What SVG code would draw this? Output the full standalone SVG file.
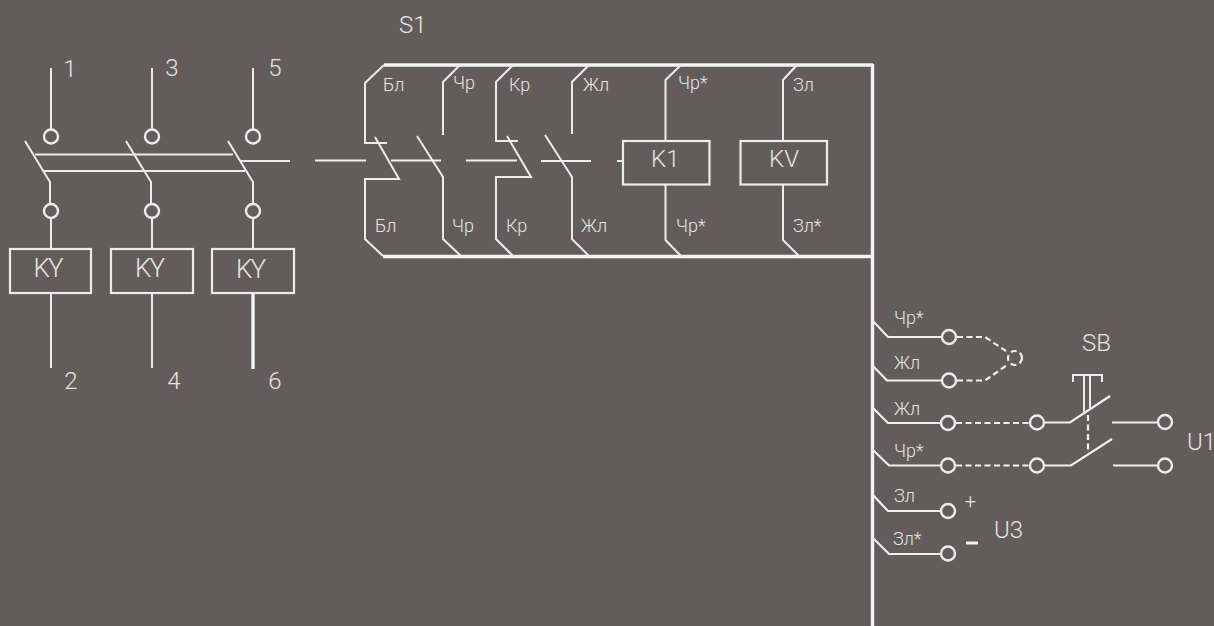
<svg xmlns="http://www.w3.org/2000/svg" width="1214" height="626" viewBox="0 0 1214 626">
<style>
.w{fill:none;stroke:#ececec;stroke-width:2}
.b{fill:none;stroke:#f4f4f4;stroke-width:3.4}
.m{fill:none;stroke:#f0f0f0;stroke-width:2.2}
.d{fill:none;stroke:#f0f0f0;stroke-width:2.2;stroke-dasharray:6 3.5}
.c{fill:none;stroke:#ececec;stroke-width:2.4}
.box{fill:none;stroke:#ececec;stroke-width:2.2}
text{font-family:"Roboto","Liberation Sans",sans-serif;font-weight:300;fill:#e4e4e4}
.s{font-size:18px}
.l{font-size:24px}
.k{font-size:26px}
.t{text-anchor:middle}
</style>
<rect width="1214" height="626" fill="#645c5c"/>
<g id="connectors">
<path class="b" d="M384 65H873M383 256.500H871M872.500 64V626"/>
<path class="w" d="M51 68V129M152 68V129M253 68V129"/>
<path class="w" d="M25 141L50 182V203M51 218V249M51 293V368"/>
<path class="w" d="M126 141L151 182V203M152 218V249M152 293V368"/>
<path class="w" d="M228 141L253 182V203M253 218V249"/>
<path class="b" d="M253 293V369"/>
<path class="w" d="M35 154.500H233M44 171H245M241 161H290"/>
<path class="w" d="M384 65L365 83V143H387M375 137L399 179H365V239L383 256"/>
<path class="w" d="M460 65L443 82V135M417 136L443 177V239L461 256"/>
<path class="w" d="M513 65L496 82V141H518M507 136L531 177H496V239L513 256"/>
<path class="w" d="M589 65L572 82V134M545 135L572 177V239L589 256"/>
<path class="w" d="M681 65L665.500 80V141M665.500 184.500V240L681 256"/>
<path class="w" d="M797 65L783 80V141M783 184.500V240L799 256"/>
<path class="m" d="M315 160.500H366M391 160.500H441M466 160.500H517M541 161H591M617 161H623"/>
<path class="m" d="M872 320L888 337H942M872 365L887 380.500H942M872 407L888 423H941M872 449L889 465.500H941M872 494L888 511H941M872 537L889 554H941"/>
<path class="d" d="M957 337H985L1006 351M957 380.500H985L1007 365M956 423H1030M956 465.500H1030M1088 415V451"/>
<circle class="d" cx="1015" cy="358" r="7" stroke-dasharray="4 3"/>
<path class="m" d="M1045 422.500H1070L1110 396M1045 465.500H1071L1112 439M1112 422.500H1157M1113 465.500H1158"/>
<path class="w" d="M1073 382V375H1102V382M1084 375V412M1090 375V408"/>
<path d="M966 543H978" stroke="#f4f4f4" stroke-width="3" fill="none"/>
</g>
<g id="terminals">
<circle class="c" cx="51" cy="136.500" r="7"/><circle class="c" cx="152" cy="136.500" r="7"/><circle class="c" cx="253" cy="136.500" r="7"/>
<circle class="c" cx="51" cy="211" r="7"/><circle class="c" cx="152" cy="211" r="7"/><circle class="c" cx="253" cy="211" r="7"/>
<circle class="c" cx="949" cy="337" r="7"/><circle class="c" cx="949" cy="380.500" r="7"/><circle class="c" cx="948" cy="423" r="7"/><circle class="c" cx="948" cy="465.500" r="7"/><circle class="c" cx="948" cy="511" r="7"/><circle class="c" cx="948" cy="553.500" r="7"/>
<circle class="c" cx="1037" cy="422.500" r="7"/><circle class="c" cx="1037" cy="465.500" r="7"/><circle class="c" cx="1165" cy="422" r="7"/><circle class="c" cx="1165" cy="465.500" r="7"/>
</g>
<g id="ky1"><rect class="box" x="10" y="249" width="81" height="44"/><text class="k t" x="48.500" y="277" textLength="30">KY</text></g>
<g id="ky2"><rect class="box" x="111" y="249" width="82" height="44"/><text class="k t" x="150" y="277" textLength="30">KY</text></g>
<g id="ky3"><rect class="box" x="212" y="249" width="82" height="44"/><text class="k t" x="251" y="278" textLength="30">KY</text></g>
<g id="k1"><rect class="box" x="623" y="141" width="86.500" height="43.500"/><text class="l" x="651" y="167">K1</text></g>
<g id="kv"><rect class="box" x="740.500" y="141" width="86.500" height="43.500"/><text class="l" x="769" y="167">KV</text></g>
<g id="labels">
<text class="l t" x="70" y="77">1</text><text class="l t" x="172" y="76">3</text><text class="l t" x="275" y="76">5</text>
<text class="l t" x="71" y="389">2</text><text class="l t" x="174" y="389">4</text><text class="l t" x="275" y="389">6</text>
<text class="l" x="399" y="33">S1</text><text class="l" x="1082" y="351">SB</text><text class="l" x="1187" y="450">U1</text><text class="l" x="994" y="538">U3</text>
<text class="t" x="970.500" y="508" font-size="20">+</text>
<text class="s" x="383" y="91">Бл</text><text class="s" x="453" y="89">Чр</text><text class="s" x="509" y="91">Кр</text><text class="s" x="583" y="91">Жл</text><text class="s" x="678" y="89">Чр*</text><text class="s" x="793" y="91">Зл</text>
<text class="s" x="375" y="232">Бл</text><text class="s" x="452" y="232">Чр</text><text class="s" x="506" y="232">Кр</text><text class="s" x="581" y="232">Жл</text><text class="s" x="676" y="232">Чр*</text><text class="s" x="793" y="232">Зл*</text>
<text class="s" x="894" y="324">Чр*</text><text class="s" x="894" y="369">Жл</text><text class="s" x="894" y="415">Жл</text><text class="s" x="894" y="457">Чр*</text><text class="s" x="894" y="502">Зл</text><text class="s" x="893" y="545">Зл*</text>
</g>
</svg>
